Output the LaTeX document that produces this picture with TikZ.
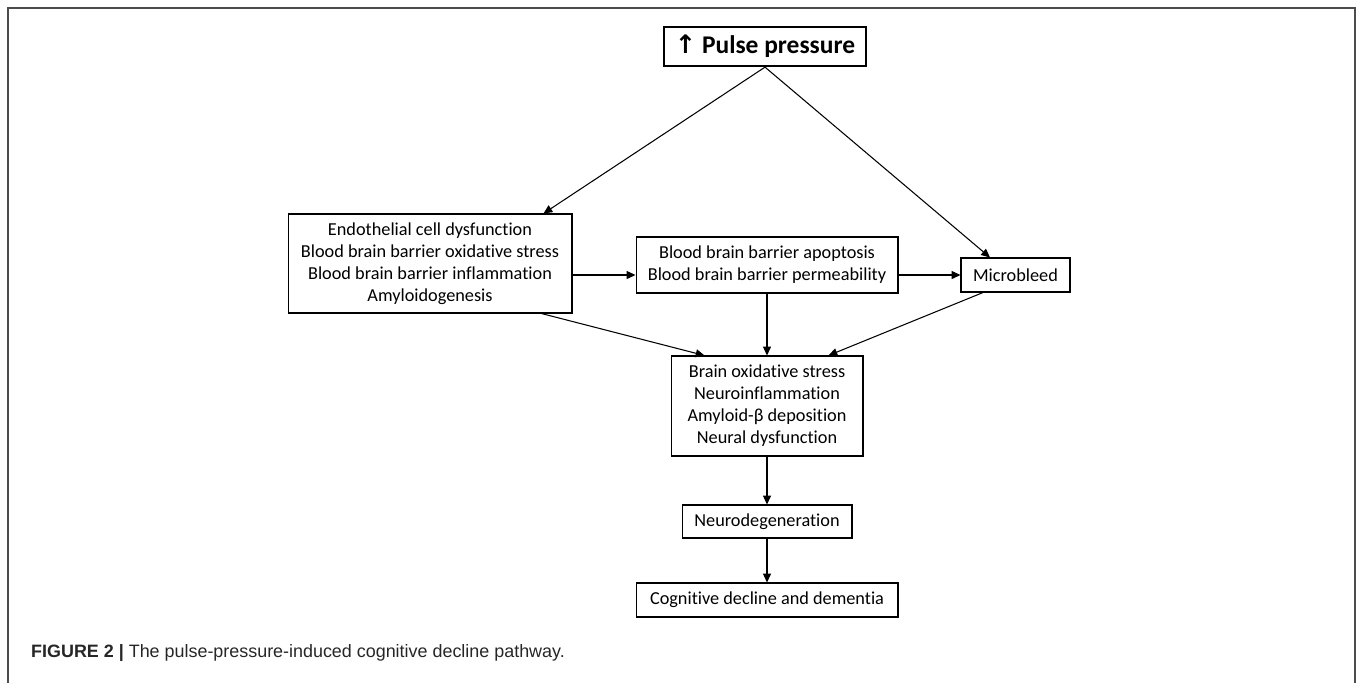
\documentclass[tikz,border=0pt]{standalone}
\usepackage{fontspec}
\setmainfont{Carlito}[Ligatures = NoCommon]
\newfontfamily\capfont{Liberation Sans}
\newfontfamily\symfont{DejaVu Sans}
\usetikzlibrary{arrows.meta}

\begin{document}
\begin{tikzpicture}[x = 0.02cm, y = -0.02cm,
    >={Triangle[length = 5pt, width = 4.5pt]},
    box/.style = {draw, line width = 0.6pt, align = center, inner sep = 0,
      font = \fontsize{10.4}{12.5}\selectfont},
    link/.style = {->, line width = 0.6pt}]
    \useasboundingbox (0, 0) rectangle (1358, 683);

    % frame
    \draw [line width = 1.2pt, black!70] (8, 683) -- (8, 8) -- (1355, 8) -- (1355, 683);

    \node [box, line width = 1.3pt, minimum width = 4.04cm, minimum height = 0.78cm,
      font = \fontsize{14.5}{16}\selectfont\bfseries] (pulse) at (765, 46.5)
      {{\symfont ↑} Pulse pressure};

    \node [box, minimum width = 5.68cm, minimum height = 1.98cm] (endo) at (430, 263.5)
      {Endothelial cell dysfunction\\Blood brain barrier oxidative stress\\
       Blood brain barrier inflammation\\Amyloidogenesis};
    \node [box, minimum width = 5.24cm, minimum height = 1.12cm] (bbb) at (767, 265)
      {Blood brain barrier apoptosis\\Blood brain barrier permeability};
    \node [box, minimum width = 2.18cm, minimum height = 0.68cm] (micro) at (1015.5, 275)
      {Microbleed};
    \node [box, minimum width = 3.84cm, minimum height = 2.0cm] (brain) at (767, 406)
      {Brain oxidative stress\\Neuroinflammation\\Amyloid-β deposition\\Neural dysfunction};
    \node [box, minimum width = 3.40cm, minimum height = 0.66cm] (neuro) at (767, 521.5)
      {Neurodegeneration};
    \node [box, minimum width = 5.24cm, minimum height = 0.68cm] (cog) at (767, 600)
      {Cognitive decline and dementia};

    \draw [link] (pulse.south) -- ([xshift = -0.58cm] endo.north east);
    \draw [link] (pulse.south) -- ([xshift = -0.51cm] micro.north);

    \draw [link] (endo.east |- micro.west) -- (bbb.west |- micro.west);
    \draw [link] (bbb.east |- micro.west) -- (micro.west);

    \draw [link] ([xshift = -0.62cm] endo.south east) -- ([xshift = 0.68cm] brain.north west);
    \draw [link] (bbb.south) -- (brain.north);
    \draw [link] ([xshift = -0.65cm] micro.south) -- ([xshift = -0.7cm] brain.north east);

    \draw [link] (brain) -- (neuro);
    \draw [link] (neuro) -- (cog);

    \node [anchor = base west, text = black!85, font = \fontsize{10.2}{12}\capfont] (caption)
      at (25, 657) {\textbf{FIGURE 2 |} The pulse-pressure-induced cognitive decline pathway.};
  \end{tikzpicture}
\end{document}
